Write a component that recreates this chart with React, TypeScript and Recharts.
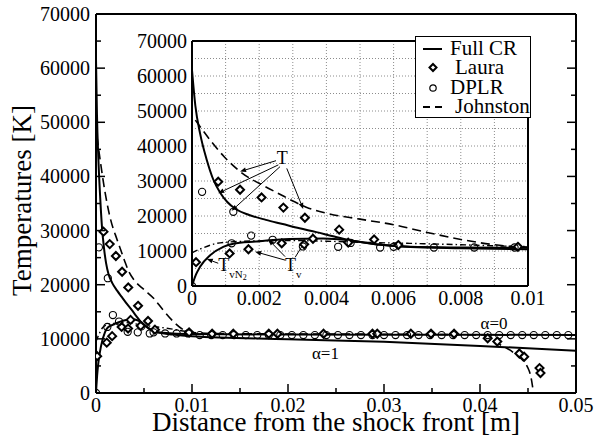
import React from 'react';
import {
  ComposedChart,
  Line,
  Scatter,
  XAxis,
  YAxis,
  Legend,
  ReferenceLine,
  ReferenceDot,
  CartesianGrid,
} from 'recharts';

const FONT = '"Liberation Serif", "Times New Roman", Times, serif';
const INK = '#000';

// ---- data: x = distance [m], t = temperature [K] ----

// Full CR translational T (alpha=0 branch runs on to the wall)
const fullCrT = [
  { x: 0, t: 61700 },
  { x: 0.0001, t: 51500 },
  { x: 0.00024, t: 43600 },
  { x: 0.00044, t: 36000 },
  { x: 0.00063, t: 30500 },
  { x: 0.00083, t: 26800 },
  { x: 0.00105, t: 24000 },
  { x: 0.0013, t: 22000 },
  { x: 0.0017, t: 20300 },
  { x: 0.0022, t: 18900 },
  { x: 0.0027, t: 17700 },
  { x: 0.0032, t: 16500 },
  { x: 0.0037, t: 15400 },
  { x: 0.0042, t: 14200 },
  { x: 0.0047, t: 13100 },
  { x: 0.0052, t: 12300 },
  { x: 0.0057, t: 11700 },
  { x: 0.0065, t: 11200 },
  { x: 0.008, t: 11000 },
  { x: 0.01, t: 10900 },
  { x: 0.02, t: 10800 },
  { x: 0.03, t: 10750 },
  { x: 0.04, t: 10750 },
  { x: 0.05, t: 10700 },
];

// Full CR vibrational T
const fullCrTv = [
  { x: 0, t: 0 },
  { x: 0.00005, t: 1500 },
  { x: 0.00012, t: 3300 },
  { x: 0.00024, t: 5500 },
  { x: 0.00054, t: 8800 },
  { x: 0.00093, t: 11200 },
  { x: 0.00123, t: 12100 },
  { x: 0.0019, t: 12700 },
  { x: 0.0029, t: 13400 },
  { x: 0.0039, t: 13600 },
  { x: 0.0047, t: 13100 },
];

// Full CR, alpha=1 branch
const fullCrAlpha1 = [
  { x: 0.0047, t: 13100 },
  { x: 0.0057, t: 11700 },
  { x: 0.0065, t: 11150 },
  { x: 0.008, t: 10800 },
  { x: 0.01, t: 10500 },
  { x: 0.02, t: 9950 },
  { x: 0.03, t: 9450 },
  { x: 0.04, t: 8700 },
  { x: 0.05, t: 7800 },
];

// Johnston T (dashed)
const johnstonT = [
  { x: 0.0001, t: 47400 },
  { x: 0.00054, t: 41700 },
  { x: 0.00095, t: 37000 },
  { x: 0.00143, t: 32700 },
  { x: 0.0022, t: 28300 },
  { x: 0.0026, t: 26300 },
  { x: 0.003, t: 24300 },
  { x: 0.0034, t: 22500 },
  { x: 0.004, t: 20800 },
  { x: 0.005, t: 19100 },
  { x: 0.006, t: 17500 },
  { x: 0.007, t: 15300 },
  { x: 0.008, t: 13300 },
  { x: 0.009, t: 11800 },
  { x: 0.0097, t: 11200 },
  { x: 0.012, t: 11000 },
  { x: 0.02, t: 10900 },
  { x: 0.03, t: 10850 },
  { x: 0.0404, t: 10700 },
  { x: 0.0418, t: 9200 },
  { x: 0.0436, t: 7300 },
  { x: 0.045, t: 4600 },
  { x: 0.0453, t: 3000 },
  { x: 0.0455, t: 900 },
];

// Johnston Tv (dash-dot)
const johnstonTv = [
  { x: 0, t: 9500 },
  { x: 0.0003, t: 10800 },
  { x: 0.0007, t: 12100 },
  { x: 0.001, t: 12500 },
  { x: 0.002, t: 12900 },
  { x: 0.003, t: 13000 },
  { x: 0.004, t: 12800 },
  { x: 0.005, t: 12500 },
  { x: 0.0064, t: 12200 },
  { x: 0.008, t: 11800 },
  { x: 0.0093, t: 11400 },
  { x: 0.01, t: 11300 },
];

// LAURA (diamonds)
const lauraPts = [
  { x: 0.00012, t: 6800 },
  { x: 0.00078, t: 29800 },
  { x: 0.00112, t: 9300 },
  { x: 0.00143, t: 27500 },
  { x: 0.00168, t: 10500 },
  { x: 0.00207, t: 25300 },
  { x: 0.00267, t: 12200 },
  { x: 0.00272, t: 22400 },
  { x: 0.00334, t: 11900 },
  { x: 0.00336, t: 19500 },
  { x: 0.0036, t: 13500 },
  { x: 0.00438, t: 16100 },
  { x: 0.00465, t: 12400 },
  { x: 0.00542, t: 13300 },
  { x: 0.00614, t: 11700 },
  { x: 0.0097, t: 11200 },
  { x: 0.0121, t: 10950 },
  { x: 0.0143, t: 10950 },
  { x: 0.018, t: 10950 },
  { x: 0.0189, t: 10950 },
  { x: 0.0237, t: 10950 },
  { x: 0.0288, t: 10950 },
  { x: 0.0293, t: 10950 },
  { x: 0.0328, t: 10950 },
  { x: 0.0349, t: 10950 },
  { x: 0.0373, t: 10950 },
  { x: 0.0408, t: 10100 },
  { x: 0.0418, t: 9500 },
  { x: 0.0441, t: 7300 },
  { x: 0.0446, t: 6700 },
  { x: 0.0462, t: 4600 },
  { x: 0.0463, t: 3700 },
];

// DPLR (circles)
const dplrPts = [
  { x: 0, t: 0 },
  { x: 0.0003, t: 26900 },
  { x: 0.00118, t: 12200 },
  { x: 0.00123, t: 21200 },
  { x: 0.00176, t: 14400 },
  { x: 0.0024, t: 13200 },
  { x: 0.0033, t: 11300 },
  { x: 0.00435, t: 11200 },
  { x: 0.00472, t: 12300 },
  { x: 0.0056, t: 11000 },
  { x: 0.006, t: 11200 },
  { x: 0.0072, t: 11000 },
  { x: 0.0084, t: 11000 },
  { x: 0.0096, t: 11000 },
  { x: 0.0108, t: 10700 },
  { x: 0.012, t: 10700 },
  { x: 0.0132, t: 10700 },
  { x: 0.0144, t: 10700 },
  { x: 0.0156, t: 10700 },
  { x: 0.0168, t: 10700 },
  { x: 0.018, t: 10700 },
  { x: 0.0192, t: 10700 },
  { x: 0.0204, t: 10700 },
  { x: 0.0216, t: 10700 },
  { x: 0.0228, t: 10700 },
  { x: 0.024, t: 10700 },
  { x: 0.0252, t: 10700 },
  { x: 0.0264, t: 10700 },
  { x: 0.0276, t: 10700 },
  { x: 0.0288, t: 10700 },
  { x: 0.03, t: 10700 },
  { x: 0.0312, t: 10700 },
  { x: 0.0324, t: 10700 },
  { x: 0.0336, t: 10700 },
  { x: 0.0348, t: 10700 },
  { x: 0.036, t: 10700 },
  { x: 0.0372, t: 10700 },
  { x: 0.0384, t: 10700 },
  { x: 0.0396, t: 10700 },
  { x: 0.0408, t: 10700 },
  { x: 0.042, t: 10700 },
  { x: 0.0432, t: 10700 },
  { x: 0.0444, t: 10700 },
  { x: 0.0456, t: 10700 },
  { x: 0.0468, t: 10700 },
  { x: 0.048, t: 10700 },
  { x: 0.0492, t: 10700 },
];

// ---- ticks ----
const mainXTicks = [0, 0.005, 0.01, 0.015, 0.02, 0.025, 0.03, 0.035, 0.04, 0.045, 0.05];
const mainXLabels = [0, 0.01, 0.02, 0.03, 0.04, 0.05];
const tempTicks = [0, 5000, 10000, 15000, 20000, 25000, 30000, 35000, 40000, 45000, 50000, 55000, 60000, 65000, 70000];
const tempLabels = [0, 10000, 20000, 30000, 40000, 50000, 60000, 70000];
const insetXTicks = [0, 0.001, 0.002, 0.003, 0.004, 0.005, 0.006, 0.007, 0.008, 0.009, 0.01];
const insetXLabels = [0, 0.002, 0.004, 0.006, 0.008, 0.01];

// ---- annotations ----
const mainNotes = [
  { x: 0.04147, t: 12870, text: 'α=0' },
  { x: 0.0239, t: 7330, text: 'α=1' },
];
const insetNotes = [
  { x: 0.00252, t: 36500, text: 'T', sub: '', sub2: '' },
  { x: 0.00078, t: 5900, text: 'T', sub: 'vN', sub2: '2' },
  { x: 0.00277, t: 5900, text: 'T', sub: 'v', sub2: '' },
];
const insetArrows = [
  { x1: 0.0025, t1: 35800, x2: 0.00143, t2: 32700 },
  { x1: 0.00257, t1: 34600, x2: 0.00078, t2: 26500 },
  { x1: 0.00262, t1: 34100, x2: 0.00118, t2: 21500 },
  { x1: 0.00282, t1: 33600, x2: 0.00331, t2: 22000 },
  { x1: 0.00078, t1: 6500, x2: 0.00044, t2: 7700 },
  { x1: 0.00277, t1: 7400, x2: 0.00188, t2: 9800 },
  { x1: 0.00277, t1: 8400, x2: 0.00227, t2: 13300 },
  { x1: 0.00307, t1: 8200, x2: 0.00336, t2: 12700 },
];

// tick renderer: inward tick marks, optional label outside
type Side = 'bottom' | 'left' | 'top' | 'right';
const makeTick = (side: Side, labels: number[], major: number, minor: number, gap: number) => (props: any) => {
  const { x, y, payload } = props;
  const v = payload.value;
  const isMajor = labels.includes(v);
  const len = isMajor ? major : minor;
  let mark = null;
  if (len > 0) {
    if (side === 'bottom') mark = <line x1={x} y1={y} x2={x} y2={y - len} stroke={INK} strokeWidth={1.5} />;
    if (side === 'top') mark = <line x1={x} y1={y} x2={x} y2={y + len} stroke={INK} strokeWidth={1.5} />;
    if (side === 'left') mark = <line x1={x} y1={y} x2={x + len} y2={y} stroke={INK} strokeWidth={1.5} />;
    if (side === 'right') mark = <line x1={x} y1={y} x2={x - len} y2={y} stroke={INK} strokeWidth={1.5} />;
  }
  const txt = { fontFamily: FONT, fontSize: 20, fill: INK, stroke: 'none' };
  let label = null;
  if (isMajor && gap > 0) {
    if (side === 'bottom')
      label = <text x={x} y={y + gap} textAnchor="middle" style={txt}>{String(v)}</text>;
    if (side === 'left')
      label = <text x={x - gap} y={y + 7} textAnchor="end" style={txt}>{String(v)}</text>;
  }
  return (
    <g>
      {mark}
      {label}
    </g>
  );
};

const xTitle = (p: any) => {
  const vb = p.viewBox;
  return (
    <text x={vb.x + vb.width / 2} y={vb.y + 38} textAnchor="middle"
      style={{ fontFamily: FONT, fontSize: 27, fill: INK }}>
      Distance from the shock front [m]
    </text>
  );
};

const yTitle = (p: any) => {
  const vb = p.viewBox;
  const cx = vb.x + 16;
  const cy = vb.y + vb.height / 2 - 3;
  return (
    <text
      x={cx}
      y={cy}
      transform={`rotate(-90 ${cx} ${cy})`}
      textAnchor="middle"
      dominantBaseline="central"
      style={{ fontFamily: FONT, fontSize: 27, fill: INK }}
    >
      Temperatures [K]
    </text>
  );
};

const diamond = (p: any) => {
  const { cx, cy } = p;
  if (cx == null || cy == null) return <g />;
  const r = 4;
  return (
    <path
      d={`M${cx},${cy - r}L${cx + r},${cy}L${cx},${cy + r}L${cx - r},${cy}Z`}
      fill="#fff"
      stroke={INK}
      strokeWidth={2}
    />
  );
};

const ring = (p: any) => {
  if (p.cx == null || p.cy == null) return <g />;
  return <circle cx={p.cx} cy={p.cy} r={3.6} fill="none" stroke={INK} strokeWidth={1.1} />;
};

const arrow = (p: any) => {
  const { x1, y1, x2, y2 } = p;
  const a = Math.atan2(y2 - y1, x2 - x1);
  const L = 6;
  const W = 2.4;
  const bx = x2 - L * Math.cos(a);
  const by = y2 - L * Math.sin(a);
  const pts = `${x2},${y2} ${bx - W * Math.sin(a)},${by + W * Math.cos(a)} ${bx + W * Math.sin(a)},${by - W * Math.cos(a)}`;
  return (
    <g>
      <line x1={x1} y1={y1} x2={bx} y2={by} stroke={INK} strokeWidth={1} />
      <polygon points={pts} fill={INK} />
    </g>
  );
};

const noteShape = (text: string, sub: string, sub2: string, anchor: 'start' | 'middle') => (p: any) => {
  if (p.cx == null || p.cy == null) return <g />;
  const size = anchor === 'middle' ? 17 : 18;
  return (
    <text x={p.cx} y={p.cy + size * 0.33} textAnchor={anchor}
      style={{ fontFamily: FONT, fontSize: size, fill: INK }}>
      {text}
      {sub && (
        <tspan style={{ fontSize: 11 }} dy={7}>
          {sub}
        </tspan>
      )}
      {sub2 && (
        <tspan style={{ fontSize: 8 }} dy={2}>
          {sub2}
        </tspan>
      )}
    </text>
  );
};

const series = () => [
  <Line key="fct" data={fullCrT} dataKey="t" name="Full CR" legendType="plainline" type="monotone"
    stroke={INK} strokeWidth={2} dot={false} isAnimationActive={false} />,
  <Line key="fctv" data={fullCrTv} dataKey="t" name="Full CR Tv" legendType="none" type="monotone"
    stroke={INK} strokeWidth={2} dot={false} isAnimationActive={false} />,
  <Line key="fa1" data={fullCrAlpha1} dataKey="t" name="Full CR a1" legendType="none" type="monotone"
    stroke={INK} strokeWidth={2} dot={false} isAnimationActive={false} />,
  <Line key="jtv" data={johnstonTv} dataKey="t" name="Johnston Tv" legendType="none" type="monotone"
    stroke={INK} strokeWidth={1.4} strokeDasharray="6 3 1.5 3" dot={false} isAnimationActive={false} />,
  <Line key="jt" data={johnstonT} dataKey="t" name="Johnston" legendType="plainline" type="monotone"
    stroke={INK} strokeWidth={1.6} strokeDasharray="9 5" dot={false} isAnimationActive={false} />,
  <Scatter key="laura" data={lauraPts} dataKey="t" name="Laura" legendType="diamond" shape={diamond}
    isAnimationActive={false} />,
  <Scatter key="dplr" data={dplrPts} dataKey="t" name="DPLR" legendType="circle" shape={ring}
    isAnimationActive={false} />,
];

const legendOrder = ['Full CR', 'Laura', 'DPLR', 'Johnston'];
const legendIndent: Record<string, number> = { 'Full CR': 0, Laura: 5, DPLR: 0, Johnston: 5 };

const legendSymbol = (it: any) => {
  if (it.type === 'diamond') return <path d="M17,6L20.5,9.5L17,13L13.5,9.5Z" fill="#fff" stroke={INK} strokeWidth={2} />;
  if (it.type === 'circle') return <circle cx={17} cy={10} r={3.2} fill="none" stroke={INK} strokeWidth={1.2} />;
  const dashed = it.value === 'Johnston' || (it.payload && it.payload.strokeDasharray);
  return <line x1={7} y1={10} x2={26} y2={10} stroke={INK} strokeWidth={2} strokeDasharray={dashed ? '7 5' : undefined} />;
};

const LegendBox = (props: any) => {
  const items = legendOrder
    .map((name) => (props.payload || []).find((p: any) => p.value === name))
    .filter(Boolean);
  return (
    <div
      style={{
        border: '1px solid #000',
        background: '#fff',
        width: 114,
        padding: '2px 0 1px',
        fontFamily: FONT,
        fontSize: 21,
        lineHeight: '19.3px',
        color: INK,
      }}
    >
      {items.map((it: any) => (
        <div key={it.value} style={{ display: 'flex', alignItems: 'center', height: 19.3 }}>
          <svg width={34} height={19} style={{ flex: 'none' }}>
            {legendSymbol(it)}
          </svg>
          <span style={{ paddingLeft: legendIndent[it.value] || 0, whiteSpace: 'nowrap' }}>{it.value}</span>
        </div>
      ))}
    </div>
  );
};

const frame = { stroke: INK, strokeWidth: 2 };

export default function App() {
  return (
    <div style={{ position: 'absolute', left: 0, top: 0, width: 595, height: 444, background: '#fff' }}>
      <div style={{ position: 'absolute', left: 0, top: 0 }}>
        <ComposedChart width={595} height={444} margin={{ top: 13, right: 18, bottom: 5, left: 6 }}>
          <XAxis type="number" dataKey="x" domain={[0, 0.05]} allowDataOverflow ticks={mainXTicks} interval={0}
            tickSize={0} tickMargin={0} tickLine={false} tick={makeTick('bottom', mainXLabels, 9, 5, 19)}
            axisLine={frame} height={46} label={{ content: xTitle }} />
          <XAxis xAxisId="top" orientation="top" type="number" domain={[0, 0.05]} allowDataOverflow
            ticks={mainXTicks} interval={0} tickSize={0} tickMargin={0} tickLine={false}
            tick={makeTick('top', mainXLabels, 9, 5, 0)} axisLine={frame} height={1} />
          <YAxis type="number" dataKey="t" domain={[0, 70000]} allowDataOverflow ticks={tempTicks} interval={0}
            tickSize={0} tickMargin={0} tickLine={false} tick={makeTick('left', tempLabels, 9, 5, 6)}
            axisLine={frame} width={90} label={{ content: yTitle }} />
          <YAxis yAxisId="right" orientation="right" type="number" domain={[0, 70000]} allowDataOverflow
            ticks={tempTicks} interval={0} tickSize={0} tickMargin={0} tickLine={false}
            tick={makeTick('right', tempLabels, 9, 5, 0)} axisLine={frame} width={1} />
          {series()}
          {mainNotes.map((n) => (
            <ReferenceDot key={n.text} x={n.x} y={n.t} r={0} ifOverflow="visible"
              shape={noteShape(n.text, '', '', 'middle')} />
          ))}
        </ComposedChart>
      </div>
      <div style={{ position: 'absolute', left: 120, top: 30 }}>
        <ComposedChart width={440} height={290} margin={{ top: 10, right: 31, bottom: 4, left: 2 }}>
          <CartesianGrid stroke="#8c8c8c" strokeDasharray="1 2" fill="#fff" />
          <XAxis type="number" dataKey="x" domain={[0, 0.01]} allowDataOverflow ticks={insetXTicks} interval={0}
            tickSize={0} tickMargin={0} tickLine={false} tick={makeTick('bottom', insetXLabels, 0, 0, 19)}
            axisLine={frame} height={30} />
          <XAxis xAxisId="top" orientation="top" type="number" domain={[0, 0.01]} allowDataOverflow
            tick={false} tickLine={false} axisLine={frame} height={1} />
          <YAxis type="number" dataKey="t" domain={[0, 70000]} allowDataOverflow ticks={tempTicks} interval={0}
            tickSize={0} tickMargin={0} tickLine={false} tick={makeTick('left', tempLabels, 0, 0, 5)}
            axisLine={frame} width={70} />
          <YAxis yAxisId="right" orientation="right" type="number" domain={[0, 70000]} allowDataOverflow
            tick={false} tickLine={false} axisLine={frame} width={1} />
          {series()}
          {insetArrows.map((a, i) => (
            <ReferenceLine key={`arr${i}`} ifOverflow="visible"
              segment={[{ x: a.x1, y: a.t1 }, { x: a.x2, y: a.t2 }]} shape={arrow} />
          ))}
          {insetNotes.map((n, i) => (
            <ReferenceDot key={`note${i}`} x={n.x} y={n.t} r={0} ifOverflow="visible"
              shape={noteShape(n.text, n.sub, n.sub2, 'start')} />
          ))}
          <Legend layout="vertical" align="center" verticalAlign="middle" content={LegendBox}
            wrapperStyle={{ left: 295, top: 6, width: 116 }} />
        </ComposedChart>
      </div>
    </div>
  );
}
